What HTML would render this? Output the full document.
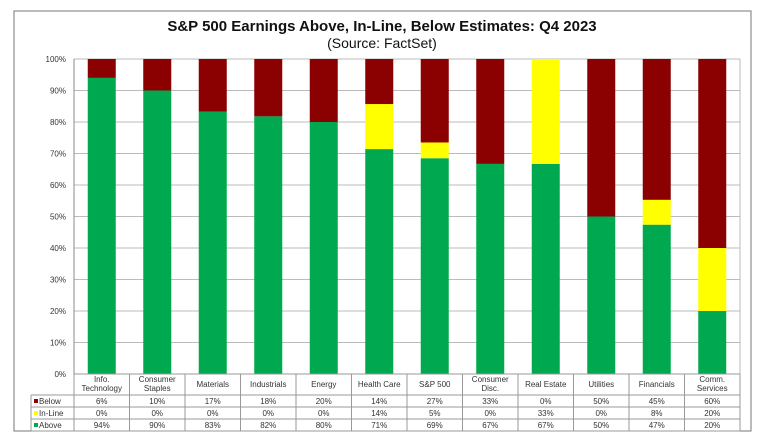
<!DOCTYPE html>
<html><head><meta charset="utf-8"><style>
body{margin:0;width:758px;height:439px;background:#fff;overflow:hidden;font-family:"Liberation Sans",Arial,sans-serif;}
svg text{font-family:"Liberation Sans",Arial,sans-serif;}
</style></head><body>
<svg id="c" width="758" height="439">
<rect x="14" y="11" width="737" height="420" fill="#fff" stroke="#777" stroke-width="1"/>
<text x="382" y="31" text-anchor="middle" font-size="15" font-weight="bold" fill="#111">S&amp;P 500 Earnings Above, In-Line, Below Estimates: Q4 2023</text>
<text x="382" y="48" text-anchor="middle" font-size="14" fill="#111">(Source: FactSet)</text>
<g id="grid"></g><g id="bars"></g><g id="table"></g>
</svg>
<script>
const categories=[["Info.","Technology"],["Consumer","Staples"],["Materials"],["Industrials"],["Energy"],["Health Care"],["S&P 500"],["Consumer","Disc."],["Real Estate"],["Utilities"],["Financials"],["Comm.","Services"]];
const below=[6,10,17,18,20,14,27,33,0,50,45,60];
const inline=[0,0,0,0,0,14,5,0,33,0,8,20];
const above=[94,90,83,82,80,71,69,67,67,50,47,20];
const barAbove=[94,90,83.3,81.8,80,71.4,68.5,66.7,66.7,50,47.4,20];
const barInline=[0,0,0,0,0,14.3,5,0,33.3,0,7.9,20];
const ticks=[0,10,20,30,40,50,60,70,80,90,100];
const NS="http://www.w3.org/2000/svg";
const L=74,R=740,T=59,B=374,cw=(R-L)/categories.length,bw=28;
const y=v=>B-(B-T)*v/100, x=i=>L+cw*i;
function mk(tag,a,p,txt){const e=document.createElementNS(NS,tag);for(const k in a)e.setAttribute(k,a[k]);if(txt!==undefined)e.textContent=txt;p.appendChild(e);return e;}
const g=document.getElementById('grid'),bg=document.getElementById('bars'),tg=document.getElementById('table');
ticks.forEach(t=>{
 const l=mk('line',{x1:L,x2:R,y1:y(t),y2:y(t),stroke:'#bbb','stroke-width':1},g);
 
 
 const tx=mk('text',{x:L-8,y:y(t)+3,'text-anchor':'end','font-size':8,fill:'#333'},g,t+'%');
 
 
});
mk('line',{x1:L,x2:L,y1:T,y2:B,stroke:'#888'},g);
mk('line',{x1:R,x2:R,y1:T,y2:B,stroke:'#bbb'},g);
categories.forEach((c,i)=>{
 const bx=x(i)+(cw-bw)/2;
 const a=mk('rect',{x:bx,y:y(barAbove[i]),width:bw,height:y(0)-y(barAbove[i]),fill:'#00a94f'},bg);
 
 
 const top2=barAbove[i]+barInline[i];
 const m=mk('rect',{x:bx,y:y(top2),width:bw,height:y(barAbove[i])-y(top2),fill:'#ffff00'},bg);
 
 
 const b=mk('rect',{x:bx,y:y(100),width:bw,height:y(top2)-y(100),fill:'#8b0000'},bg);
 
 
});
// table
const rows=[395,407,419,431];
mk('line',{x1:L,x2:R,y1:B,y2:B,stroke:'#999'},tg);
rows.forEach((ry,k)=>mk('line',{x1:k==3?31:31,x2:R,y1:ry,y2:ry,stroke:'#999'},tg));
for(let i=0;i<=categories.length;i++)mk('line',{x1:x(i),x2:x(i),y1:B,y2:431,stroke:'#999'},tg);
mk('line',{x1:31,x2:31,y1:395,y2:431,stroke:'#999'},tg);
categories.forEach((c,i)=>{
 const cx=x(i)+cw/2;
 const lab=mk('text',{x:cx,'text-anchor':'middle','font-size':8,fill:'#333'},tg);
 
 
 if(c.length==1)mk('tspan',{x:cx,y:387},lab,c[0]);
 else{mk('tspan',{x:cx,y:382},lab,c[0]);mk('tspan',{x:cx,y:391},lab,c[1]);}
 [below,inline,above].forEach((arr,k)=>{
  const t=mk('text',{x:cx,y:rows[k]+9,'text-anchor':'middle','font-size':8,fill:'#333'},tg,arr[i]+'%');
  
  
 });
});
[['Below','#8b0000'],['In-Line','#ffff00'],['Above','#00a94f']].forEach((s,k)=>{
 const r=mk('rect',{x:34,y:rows[k]+4,width:4,height:4,fill:s[1]},tg);
 
 
 const t=mk('text',{x:39,y:rows[k]+9,'font-size':8,fill:'#333'},tg,s[0]);
 
 
});
</script>
</body></html>
